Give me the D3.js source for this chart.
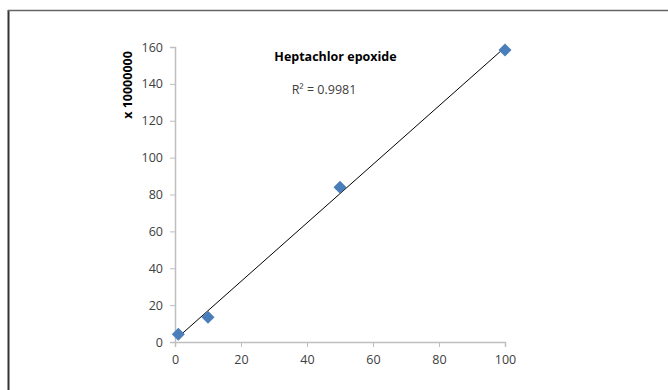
<!DOCTYPE html>
<html>
<head>
<meta charset="utf-8">
<script src="https://cdn.jsdelivr.net/npm/d3@7"></script>
<style>
  html, body { margin: 0; padding: 0; background: #fff; }
  svg { display: block; }
  text { font-family: "Open Sans", Lato, "Liberation Sans", sans-serif; fill: #404040; }
</style>
</head>
<body>
<svg id="chart" width="668" height="390"></svg>
<script>
// Calibration points: concentration vs. response (x 10000000)
const concentrations = [1, 10, 50, 100];
const responses = [4.2, 13.4, 84, 158.4];
const xTicks = [0, 20, 40, 60, 80, 100];
const yTicks = [0, 20, 40, 60, 80, 100, 120, 140, 160];
const chartTitle = "Heptachlor epoxide";
const rSquaredLabel = "R² = 0.9981";
const yAxisLabel = "x 10000000";

const svg = d3.select("#chart");
const fontStack = "'Open Sans', Lato, sans-serif";

// Outer frame (left and top edges visible)
svg.append("line").attr("x1", 8.5).attr("x2", 8.5).attr("y1", 10).attr("y2", 390)
  .attr("stroke", "#333").attr("stroke-width", 2);
svg.append("line").attr("x1", 8).attr("x2", 668).attr("y1", 10.5).attr("y2", 10.5)
  .attr("stroke", "#666").attr("stroke-width", 1.5);

const x = d3.scaleLinear().domain([0, 100]).range([175, 505]);
const y = d3.scaleLinear().domain([0, 160]).range([342, 47]);

const axisColor = "#bfbfbf";

// X axis
const gx = svg.append("g").attr("transform", `translate(0,${y(0)})`)
  .call(d3.axisBottom(x).tickValues(xTicks).tickSize(5).tickPadding(8).tickFormat(d3.format("d")));
gx.select(".domain").attr("stroke", axisColor).attr("stroke-width", 1.5);
gx.selectAll(".tick line").attr("stroke", axisColor);
gx.selectAll(".tick text").attr("font-size", 12.5).attr("fill", "#404040")
  .style("font-family", fontStack);

// Y axis
const gy = svg.append("g").attr("transform", `translate(${x(0)},0)`)
  .call(d3.axisLeft(y).tickValues(yTicks).tickSize(5).tickPadding(7).tickFormat(d3.format("d")));
gy.select(".domain").attr("stroke", axisColor).attr("stroke-width", 1.5);
gy.selectAll(".tick line").attr("stroke", axisColor);
gy.selectAll(".tick text").attr("font-size", 12.5).attr("fill", "#404040")
  .style("font-family", fontStack);

// Least-squares linear trendline
const n = concentrations.length;
const mx = d3.mean(concentrations), my = d3.mean(responses);
let sxy = 0, sxx = 0;
for (let i = 0; i < n; i++) {
  sxy += (concentrations[i] - mx) * (responses[i] - my);
  sxx += (concentrations[i] - mx) ** 2;
}
const slope = sxy / sxx;
const intercept = my - slope * mx;
const x0 = d3.min(concentrations), x1 = d3.max(concentrations);

svg.append("line")
  .attr("x1", x(x0)).attr("y1", y(intercept + slope * x0))
  .attr("x2", x(x1)).attr("y2", y(intercept + slope * x1))
  .attr("stroke", "#000").attr("stroke-width", 1);

// Data markers (diamonds)
svg.append("g").selectAll("path")
  .data(concentrations.map((c, i) => [c, responses[i]]))
  .join("path")
  .attr("transform", d => `translate(${x(d[0])},${y(d[1])})`)
  .attr("d", "M0,-6.5L6.5,0L0,6.5L-6.5,0Z")
  .attr("fill", "#4a7ebb");

// Title and R² annotation
svg.append("text").attr("x", 335.5).attr("y", 61).attr("text-anchor", "middle")
  .attr("font-size", 12.5).attr("font-weight", "bold")
  .style("fill", "#000").text(chartTitle);
svg.append("text").attr("x", 324).attr("y", 94).attr("text-anchor", "middle")
  .attr("font-size", 12.5).text(rSquaredLabel);

// Y axis title
svg.append("text")
  .attr("transform", "translate(132,85) rotate(-90)")
  .attr("text-anchor", "middle").attr("font-size", 12.5).attr("font-weight", "bold")
  .style("fill", "#000").text(yAxisLabel);
</script>
</body>
</html>
